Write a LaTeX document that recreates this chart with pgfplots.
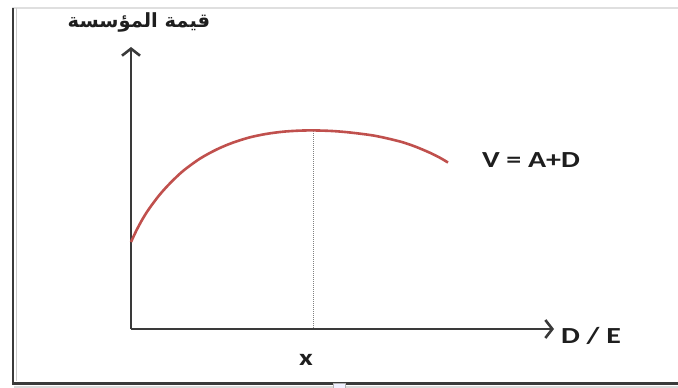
\documentclass[border=0pt]{standalone}
\usepackage{pgfplots}
\pgfplotsset{compat=1.18}
\usetikzlibrary{arrows.meta}
\usepackage{fontspec}
\setmainfont{Carlito}
\TeXXeTstate=1
\newfontfamily\arabicfont[Script=Arabic]{DejaVu Sans}

\definecolor{curvered}{HTML}{C0504D}
\definecolor{axisgray}{HTML}{3A3A3A}
\definecolor{txt}{HTML}{1E1E1E}

\begin{document}
\begin{tikzpicture}
\useasboundingbox (0,0) rectangle (678bp,388bp);
\begin{axis}[
  at={(0,0)}, anchor=south west,
  scale only axis, width=678bp, height=388bp,
  xmin=0, xmax=678, ymin=0, ymax=388, y dir=reverse,
  hide axis, clip=false,
]
% frame of the figure box
\draw[gray!25, line width=1.5bp] (axis cs:12,8) -- (axis cs:678,8);
\draw[gray!30, line width=2bp] (axis cs:14,386.5) -- (axis cs:678,386.5);
\draw[axisgray, line width=2.5bp] (axis cs:13,8) -- (axis cs:13,383.5) -- (axis cs:678,383.5);
\draw[gray!40, line width=1bp] (axis cs:16,8) -- (axis cs:16,381);
\draw[gray!60, fill=blue!6, line width=0.8bp] (axis cs:333,383) rectangle (axis cs:345,388);

% coordinate axes
\addplot[axisgray, line width=2.6bp, -{Straight Barb[length=7bp,width=18bp,line width=2.6bp]}]
  coordinates {(131,329) (131,47)};
\addplot[axisgray, line width=2.6bp, -{Straight Barb[length=7bp,width=18bp,line width=2.6bp]}]
  coordinates {(131,329) (554,329)};

% optimum: vertical dotted guide
\addplot[gray, line width=1bp, dash pattern=on 1bp off 1bp]
  coordinates {(313,131) (313,328)};

% firm value curve
\addplot[curvered, line width=2.6bp, smooth, tension=0.5]
  coordinates {(131,242) (136,231.3) (141,221.8) (146,213.4) (152,204.7)
               (160,194.3) (170,183.3) (183,171.0) (200,158.6) (217,149.3)
               (233,142.6) (250,137.3) (267,133.8) (283,131.7) (298,130.7)
               (313,130.4) (332,131) (350,132.5) (375,135.8) (400,141.5)
               (415,146.5) (430,152.8) (440,157.8) (448,162.5)};

% labels
\node[txt, font=\fontsize{23bp}{27bp}\selectfont\bfseries] at (axis cs:531,160)
  {\scalebox{1.3}[1]{V = A+D}};
\node[txt, font=\fontsize{23bp}{27bp}\selectfont\bfseries] at (axis cs:591,336)
  {\scalebox{1.3}[1]{D / E}};
\node[txt, font=\fontsize{23bp}{27bp}\selectfont\bfseries] at (axis cs:306,360)
  {\scalebox{1.3}[1]{x}};
\node[txt, font=\fontsize{19.5bp}{22bp}\selectfont] at (axis cs:139,22)
  {\arabicfont\bfseries\beginR قيمة المؤسسة\endR};
\end{axis}
\end{tikzpicture}
\end{document}
